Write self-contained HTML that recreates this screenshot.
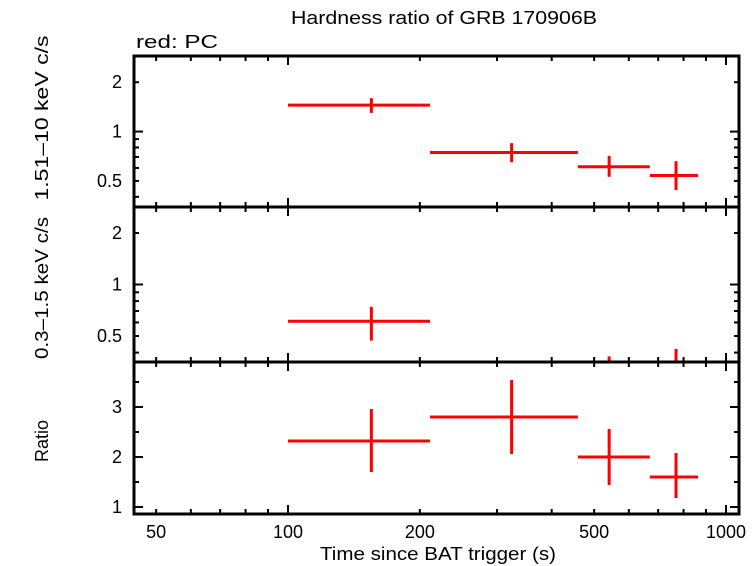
<!DOCTYPE html>
<html><head><meta charset="utf-8"><style>
body{margin:0;background:#fff}
svg{display:block;font-family:"Liberation Sans",sans-serif}
</style></head><body>
<svg id="chart" width="754" height="566" viewBox="0 0 754 566" xmlns="http://www.w3.org/2000/svg">
<text x="444" y="24" font-size="18" text-anchor="middle" textLength="306" lengthAdjust="spacingAndGlyphs">Hardness ratio of GRB 170906B</text>
<text x="136" y="48" font-size="18" textLength="82" lengthAdjust="spacingAndGlyphs">red: PC</text>
<text transform="translate(48,118) rotate(-90)" font-size="18" text-anchor="middle" textLength="165" lengthAdjust="spacingAndGlyphs">1.51–10 keV c/s</text>
<text transform="translate(48,288) rotate(-90)" font-size="18" text-anchor="middle" textLength="142" lengthAdjust="spacingAndGlyphs">0.3–1.5 keV c/s</text>
<text transform="translate(48,441) rotate(-90)" font-size="18" text-anchor="middle" textLength="42" lengthAdjust="spacingAndGlyphs">Ratio</text>
<text x="438" y="560" font-size="18" text-anchor="middle" textLength="236" lengthAdjust="spacingAndGlyphs">Time since BAT trigger (s)</text>
<g id="marks"></g>
</svg>
<script>
const xLo=[100,211,459,670];
const xHi=[211,459,670,863];
const xMid=[155,324,541,769];
const hardVal=[1.45,0.745,0.61,0.54];
const hardErrHi=[1.6,0.85,0.71,0.66];
const hardErrLo=[1.3,0.65,0.53,0.44];
const softVal=[0.61,0.2,0.3,0.3];
const softErrHi=[0.74,0.28,0.38,0.42];
const softErrLo=[0.47,0.15,0.2,0.2];
const ratioVal=[2.32,2.8,2.0,1.6];
const ratioErrHi=[2.96,3.54,2.56,2.08];
const ratioErrLo=[1.7,2.06,1.44,1.18];
const xTickLabels=[50,100,200,500,1000];
const logTickLabels=["0.5","1","2"];
const ratioTickLabels=["1","2","3"];

const NS="http://www.w3.org/2000/svg";
const svg=document.getElementById('marks');
const L=134,R=739;
const X=v=>288+(Math.log10(v)-2)*438;
const panels=[
 {name:'hard',top:56,bot:207,log:true,lo:-0.46,hi:0.461},
 {name:'soft',top:207,bot:362,log:true,lo:-0.453,hi:0.453},
 {name:'ratio',top:362,bot:514,log:false,lo:0.86,hi:3.9}
];
function Y(p,v){const t=p.log?Math.log10(v):v;return p.bot-(t-p.lo)/(p.hi-p.lo)*(p.bot-p.top);}
function ln(x1,y1,x2,y2,c,w,name){const e=document.createElementNS(NS,'line');
e.setAttribute('x1',x1);e.setAttribute('y1',y1);e.setAttribute('x2',x2);e.setAttribute('y2',y2);
e.setAttribute('stroke',c);e.setAttribute('stroke-width',w);


svg.appendChild(e);return e;}
function tx(x,y,s,anchor,name){const e=document.createElementNS(NS,'text');
e.setAttribute('x',x);e.setAttribute('y',y);e.setAttribute('font-size','18');e.setAttribute('text-anchor',anchor);e.textContent=s;


svg.appendChild(e);}
const xMinor=[];for(let d=10;d<=1000;d*=10)for(let k=1;k<10;k++){const v=d*k;if(X(v)>L&&X(v)<R)xMinor.push(v);}
panels.forEach(p=>{
 const cp=document.createElementNS(NS,'clipPath');cp.setAttribute('id','clip-'+p.name);
 const r=document.createElementNS(NS,'rect');r.setAttribute('x',L);r.setAttribute('y',p.top);r.setAttribute('width',R-L);r.setAttribute('height',p.bot-p.top);
 cp.appendChild(r);svg.appendChild(cp);
 xMinor.forEach(v=>{const maj=[100,1000].includes(v);const len=maj?9:5;
  ln(X(v),p.bot,X(v),p.bot-len,'#000',2,'x-tick');ln(X(v),p.top,X(v),p.top+len,'#000',2,'x-tick');});
 let yt=[];
 if(p.log){[0.2,0.3,0.4,0.5,0.6,0.7,0.8,0.9,1,2,3].forEach(v=>{const y=Y(p,v);if(y>p.top+1&&y<p.bot-1)yt.push([v,y,v===1]);});}
 else{[1,1.5,2,2.5,3,3.5].forEach(v=>{const y=Y(p,v);if(y>p.top+1&&y<p.bot-1)yt.push([v,y,Number.isInteger(v)]);});}
 yt.forEach(([v,y,maj])=>{const len=maj?9:5;ln(L,y,L+len,y,'#000',2,'y-tick');ln(R,y,R-len,y,'#000',2,'y-tick');});
 const labs=p.log?logTickLabels:ratioTickLabels;
 labs.forEach(s=>tx(L-12,Y(p,parseFloat(s))+6,s,'end','y-tick-label'));
 const vals=p.name==='hard'?[hardVal,hardErrLo,hardErrHi]:p.name==='soft'?[softVal,softErrLo,softErrHi]:[ratioVal,ratioErrLo,ratioErrHi];
 const g=document.createElementNS(NS,'g');g.setAttribute('clip-path','url(#clip-'+p.name+')');
 
 
 svg.appendChild(g);
 for(let i=0;i<xMid.length;i++){
  const a=ln(X(xLo[i]),Y(p,vals[0][i]),X(xHi[i]),Y(p,vals[0][i]),'#f00',3,'x-error-bar');g.appendChild(a);
  const b=ln(X(xMid[i]),Y(p,vals[1][i]),X(xMid[i]),Y(p,vals[2][i]),'#f00',3,'y-error-bar');g.appendChild(b);
 }
 const f=document.createElementNS(NS,'rect');f.setAttribute('x',L);f.setAttribute('y',p.top);f.setAttribute('width',R-L);f.setAttribute('height',p.bot-p.top);
 f.setAttribute('fill','none');f.setAttribute('stroke','#000');f.setAttribute('stroke-width','3');
 
 
 svg.appendChild(f);
});
xTickLabels.forEach(v=>tx(X(v),538,String(v),'middle','x-tick-label'));
</script>
</body></html>
